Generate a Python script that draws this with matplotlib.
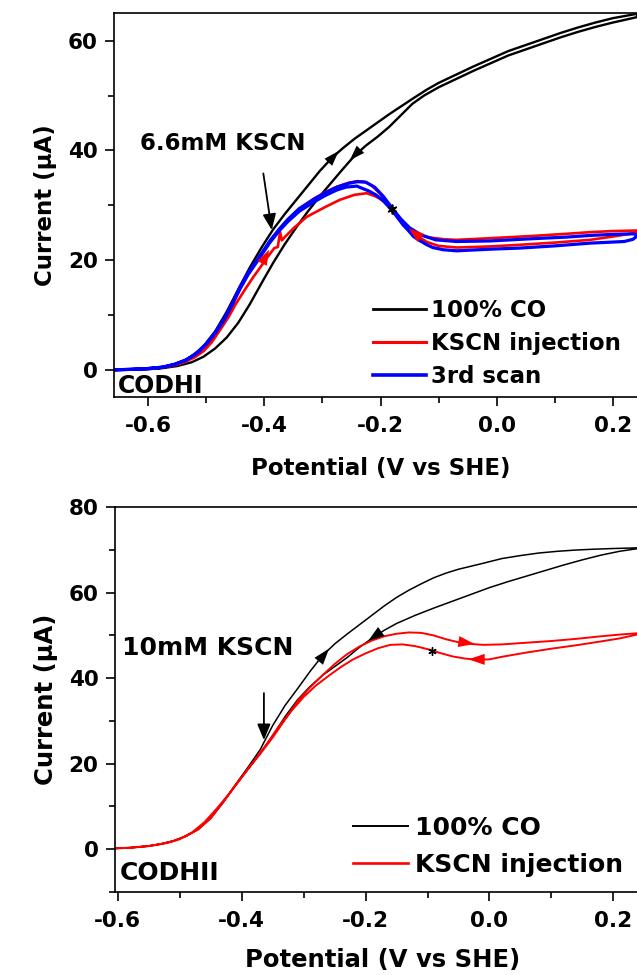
import matplotlib
matplotlib.use("Agg")
import matplotlib.pyplot as plt
from matplotlib.lines import Line2D
from matplotlib.ticker import MultipleLocator

# ---------------- CODH I panel (6.6 mM KSCN) ----------------
codh1_co_fwd_x = [-0.659, -0.62, -0.59, -0.565, -0.545, -0.525, -0.505, -0.485, -0.465, -0.445,
                  -0.425, -0.405, -0.385, -0.365, -0.345, -0.325, -0.305, -0.285, -0.265, -0.245,
                  -0.225, -0.205, -0.185, -0.165, -0.145, -0.12, -0.10, -0.07, -0.04, -0.01,
                  0.02, 0.05, 0.08, 0.11, 0.14, 0.17, 0.20, 0.242]
codh1_co_fwd_y = [0.0, 0.05, 0.2, 0.6, 1.3, 2.5, 4.3, 7.0, 10.6, 14.7,
                  18.7, 22.3, 25.6, 28.4, 31.0, 33.6, 36.2, 38.5, 40.4, 42.1,
                  43.6, 45.1, 46.6, 48.0, 49.4, 51.1, 52.3, 53.8, 55.3, 56.7,
                  58.1, 59.2, 60.3, 61.4, 62.4, 63.3, 64.1, 64.9]
codh1_co_rev_x = [0.242, 0.20, 0.17, 0.14, 0.11, 0.08, 0.05, 0.02, -0.01, -0.04,
                  -0.07, -0.10, -0.125, -0.145, -0.165, -0.185, -0.205, -0.225, -0.245, -0.265,
                  -0.285, -0.305, -0.325, -0.345, -0.365, -0.385, -0.405, -0.425, -0.445, -0.465,
                  -0.485, -0.505, -0.525, -0.55, -0.58, -0.62, -0.659]
codh1_co_rev_y = [64.3, 63.3, 62.5, 61.6, 60.6, 59.5, 58.4, 57.3, 55.9, 54.5,
                  53.0, 51.5, 50.0, 48.5, 46.4, 44.3, 42.5, 40.9, 39.0, 36.6,
                  34.1, 31.6, 28.9, 26.0, 22.9, 19.5, 15.8, 12.0, 8.6, 5.9,
                  3.9, 2.4, 1.4, 0.7, 0.25, 0.05, 0.0]

codh1_kscn_fwd_x = [-0.659, -0.63, -0.60, -0.575, -0.555, -0.535, -0.515, -0.50, -0.485, -0.47,
                    -0.455, -0.442, -0.428, -0.413, -0.39, -0.375, -0.36, -0.34, -0.315, -0.295,
                    -0.275, -0.255, -0.24, -0.228, -0.215, -0.20, -0.185, -0.17, -0.155, -0.14,
                    -0.12, -0.09, -0.069, -0.011, 0.06, 0.12, 0.161, 0.20, 0.242]
codh1_kscn_fwd_y = [0.0, 0.1, 0.25, 0.5, 1.0, 1.75, 3.1, 4.6, 6.6, 9.0,
                    11.9, 14.8, 17.4, 19.8, 23.5, 25.5, 27.3, 29.3, 31.2, 32.4,
                    33.4, 34.1, 34.4, 34.3, 33.6, 32.0, 29.8, 27.6, 25.9, 24.9,
                    24.2, 23.8, 23.7, 24.0, 24.4, 24.8, 25.1, 25.3, 25.4]
codh1_kscn_rev_x = [0.242, 0.20, 0.161, 0.10, 0.04, -0.011, -0.069, -0.10, -0.12, -0.135,
                    -0.15, -0.165, -0.18, -0.19, -0.201, -0.21, -0.224, -0.245, -0.27, -0.295,
                    -0.327, -0.35, -0.365, -0.370, -0.373, -0.377, -0.383, -0.395, -0.405, -0.42,
                    -0.435, -0.45, -0.462, -0.475, -0.491, -0.505, -0.52, -0.54, -0.56, -0.59,
                    -0.62, -0.659]
codh1_kscn_rev_y = [25.0, 24.3, 23.7, 23.2, 22.8, 22.5, 22.3, 22.6, 23.3, 24.3,
                    25.7, 27.4, 29.2, 30.3, 31.2, 31.7, 32.2, 31.9, 31.0, 29.7,
                    27.9, 25.8, 24.2, 23.6, 25.1, 22.4, 22.2, 20.5, 19.0, 16.8,
                    14.4, 11.9, 9.6, 7.5, 5.0, 3.4, 2.3, 1.3, 0.7, 0.25,
                    0.08, 0.0]

codh1_scan3_fwd_x = [-0.659, -0.63, -0.60, -0.575, -0.555, -0.535, -0.515, -0.50, -0.485, -0.47,
                     -0.455, -0.442, -0.428, -0.413, -0.39, -0.375, -0.36, -0.34, -0.315, -0.295,
                     -0.275, -0.255, -0.24, -0.225, -0.21, -0.195, -0.18, -0.165, -0.15, -0.13,
                     -0.105, -0.069, -0.011, 0.06, 0.12, 0.161, 0.20, 0.236, 0.242]
codh1_scan3_fwd_y = [0.0, 0.1, 0.25, 0.5, 1.0, 1.8, 3.2, 4.8, 6.8, 9.2,
                     12.2, 15.1, 17.7, 20.0, 23.6, 25.6, 27.4, 29.4, 31.1, 32.3,
                     33.3, 34.0, 34.3, 34.2, 33.3, 31.6, 29.5, 27.5, 25.9, 24.6,
                     23.7, 23.4, 23.5, 23.9, 24.2, 24.5, 24.7, 24.8, 24.6]
codh1_scan3_rev_x = [0.242, 0.235, 0.22, 0.161, 0.10, 0.04, -0.011, -0.069, -0.092, -0.11,
                     -0.12, -0.133, -0.143, -0.152, -0.161, -0.172, -0.184, -0.195, -0.208, -0.22,
                     -0.241, -0.26, -0.275, -0.295, -0.315, -0.34, -0.36, -0.375, -0.39, -0.413,
                     -0.428, -0.442, -0.455, -0.47, -0.485, -0.50, -0.515, -0.535, -0.555, -0.575,
                     -0.60, -0.63, -0.659]
codh1_scan3_rev_y = [24.4, 23.8, 23.4, 23.1, 22.6, 22.2, 22.0, 21.7, 21.9, 22.3,
                     22.8, 23.6, 24.3, 25.4, 26.4, 28.0, 29.5, 30.8, 31.9, 32.6,
                     33.5, 33.3, 32.8, 31.8, 30.6, 28.9, 27.0, 25.3, 23.3, 19.7,
                     17.4, 14.8, 12.0, 9.0, 6.7, 4.7, 3.1, 1.8, 1.0, 0.5,
                     0.25, 0.1, 0.0]

# scan-direction arrowheads: (x_tail, y_tail, x_head, y_head, colour)
codh1_dir_arrows = [(-0.292, 37.6, -0.272, 39.9, "black"),
                    (-0.232, 40.5, -0.253, 38.2, "black"),
                    (-0.406, 19.0, -0.392, 21.9, "red"),
                    (-0.124, 23.5, -0.151, 25.8, "red")]
codh1_marker = (-0.181, 29.4)

# ---------------- CODH II panel (10 mM KSCN) ----------------
codh2_co_fwd_x = [-0.6045, -0.58, -0.55, -0.53, -0.51, -0.49, -0.47, -0.45, -0.43, -0.41,
                  -0.39, -0.37, -0.35, -0.33, -0.31, -0.29, -0.27, -0.25, -0.23, -0.21,
                  -0.19, -0.17, -0.15, -0.13, -0.11, -0.09, -0.07, -0.05, -0.03, -0.01,
                  0.02, 0.05, 0.08, 0.11, 0.14, 0.17, 0.20, 0.238]
codh2_co_fwd_y = [0.15, 0.3, 0.7, 1.2, 1.9, 3.0, 4.7, 7.3, 11.0, 15.1,
                  19.1, 23.3, 28.9, 33.6, 37.5, 41.5, 45.2, 48.0, 50.3, 52.5,
                  54.7, 56.9, 58.9, 60.6, 62.1, 63.5, 64.6, 65.5, 66.2, 66.9,
                  68.0, 68.7, 69.3, 69.7, 70.0, 70.2, 70.35, 70.5]
codh2_co_rev_x = [0.238, 0.21, 0.18, 0.15, 0.12, 0.09, 0.06, 0.03, 0.0, -0.03,
                  -0.06, -0.09, -0.12, -0.15, -0.17, -0.19, -0.21, -0.23, -0.25, -0.27,
                  -0.29, -0.31, -0.33, -0.35, -0.37, -0.39, -0.41, -0.43, -0.45, -0.47,
                  -0.49, -0.51, -0.53, -0.55, -0.58, -0.6045]
codh2_co_rev_y = [70.3, 69.7, 68.8, 67.7, 66.5, 65.2, 63.9, 62.6, 61.2, 59.6,
                  58.0, 56.4, 54.7, 52.8, 51.2, 49.3, 47.2, 44.8, 42.7, 40.6,
                  38.0, 34.9, 31.0, 26.5, 22.4, 18.7, 14.9, 10.9, 7.2, 4.6,
                  3.0, 1.9, 1.2, 0.7, 0.3, 0.15]

codh2_kscn_fwd_x = [-0.6045, -0.58, -0.55, -0.53, -0.51, -0.49, -0.47, -0.45, -0.43, -0.41,
                    -0.39, -0.37, -0.35, -0.33, -0.31, -0.29, -0.27, -0.25, -0.23, -0.21,
                    -0.19, -0.17, -0.15, -0.13, -0.11, -0.09, -0.07, -0.05, -0.03, -0.01,
                    0.02, 0.06, 0.10, 0.14, 0.18, 0.21, 0.238]
codh2_kscn_fwd_y = [0.15, 0.3, 0.7, 1.2, 1.9, 3.0, 4.6, 7.2, 10.9, 14.9,
                    18.7, 22.3, 26.1, 30.3, 34.6, 37.8, 40.6, 43.3, 45.6, 47.4,
                    48.8, 49.8, 50.4, 50.7, 50.6, 50.0, 49.1, 48.4, 48.0, 47.8,
                    47.9, 48.3, 48.7, 49.2, 49.8, 50.2, 50.5]
codh2_kscn_rev_x = [0.238, 0.21, 0.18, 0.14, 0.10, 0.06, 0.02, 0.0, -0.02, -0.04,
                    -0.06, -0.08, -0.10, -0.12, -0.14, -0.16, -0.18, -0.20, -0.22, -0.24,
                    -0.26, -0.28, -0.30, -0.32, -0.34, -0.36, -0.38, -0.40, -0.42, -0.44,
                    -0.46, -0.48, -0.50, -0.52, -0.55, -0.58, -0.6045]
codh2_kscn_rev_y = [50.2, 49.3, 48.6, 47.7, 46.9, 46.0, 45.0, 44.4, 44.3, 44.6,
                    45.1, 45.9, 46.8, 47.5, 47.9, 47.8, 47.0, 45.8, 44.4, 42.6,
                    40.5, 38.3, 35.6, 32.3, 28.7, 24.5, 20.6, 16.8, 13.0, 9.5,
                    6.3, 3.9, 2.3, 1.4, 0.7, 0.3, 0.15]

codh2_dir_arrows = [(-0.281, 43.0, -0.259, 46.9, "black"),
                    (-0.172, 51.2, -0.196, 48.7, "black"),
                    (-0.065, 48.9, -0.024, 48.0, "red"),
                    (0.006, 44.4, -0.034, 44.4, "red")]
codh2_marker = (-0.093, 46.3)

FONT = "DejaVu Sans"
plt.rcParams["font.family"] = [FONT]
plt.rcParams["font.weight"] = "bold"

fig = plt.figure(figsize=(6.37, 9.75), dpi=100)
ax1 = fig.add_axes([0.1793, 0.5925, 0.8372, 0.3939])
ax2 = fig.add_axes([0.1805, 0.0854, 0.8408, 0.3943])


def style_axes(ax, xlim, ylim, ymajor, yticks, fs_tick, fs_label, xpad):
    ax.set_xlim(*xlim)
    ax.set_ylim(*ylim)
    ax.xaxis.set_major_locator(MultipleLocator(0.2))
    ax.xaxis.set_minor_locator(MultipleLocator(0.1))
    ax.set_yticks(yticks)
    ax.yaxis.set_minor_locator(MultipleLocator(ymajor / 2))
    ax.tick_params(which="major", direction="out", length=6.8, width=1.2,
                   labelsize=fs_tick, pad=5)
    ax.tick_params(which="minor", direction="out", length=4, width=1.2)
    ax.tick_params(top=False, right=False, which="both")
    ax.tick_params(axis="x", which="major", pad=7)
    for lab in ax.get_xticklabels() + ax.get_yticklabels():
        lab.set_fontweight("bold")
    ax.set_xticks(ax.get_xticks())
    ax.set_xticklabels([f"{t:.1f}" if abs(t) > 1e-9 else "0.0" for t in ax.get_xticks()],
                       fontweight="bold")
    ax.set_xlim(*xlim)
    for sp in ax.spines.values():
        sp.set_linewidth(1.2)
    ax.set_xlabel("Potential (V vs SHE)", fontsize=fs_label, fontweight="bold", labelpad=xpad)
    ax.set_ylabel("Current (μA)", fontsize=fs_label, fontweight="bold", labelpad=8)


def dir_arrows(ax, arrows, scale):
    for xt, yt, xh, yh, c in arrows:
        ax.annotate("", xy=(xh, yh), xytext=(xt, yt),
                    arrowprops=dict(arrowstyle="-|>,head_length=0.65,head_width=0.22",
                                    color=c, lw=0, shrinkA=0, shrinkB=0,
                                    mutation_scale=scale))


# ---- top panel ----
ax1.plot(codh1_co_fwd_x + codh1_co_rev_x, codh1_co_fwd_y + codh1_co_rev_y,
         color="black", lw=1.7, label="100% CO")
ax1.plot(codh1_kscn_fwd_x + codh1_kscn_rev_x, codh1_kscn_fwd_y + codh1_kscn_rev_y,
         color="#ff0000", lw=1.9, label="KSCN injection")
ax1.plot(codh1_scan3_fwd_x + codh1_scan3_rev_x, codh1_scan3_fwd_y + codh1_scan3_rev_y,
         color="#0000ff", lw=2.3, label="3rd scan")
ax1.plot(*codh1_marker, marker=(6, 2, 0), color="black", ms=7, mew=1.2)
dir_arrows(ax1, codh1_dir_arrows, 17)
style_axes(ax1, (-0.6588, 0.26), (-5, 65), 20, [0, 20, 40, 60], 15.5, 16.5, 15)

ax1.text(-0.614, 40.1, "6.6mM KSCN", fontsize=16.5, fontweight="bold", ha="left", va="baseline")
ax1.annotate("", xy=(-0.3874, 25.5), xytext=(-0.4019, 35.8),
             arrowprops=dict(arrowstyle="-|>,head_length=0.6,head_width=0.25",
                             color="black", lw=1.3, shrinkA=0, shrinkB=0, mutation_scale=16))
ax1.text(-0.6525, -4.2, "CODHI", fontsize=17, fontweight="bold", ha="left", va="baseline")

h1 = [Line2D([], [], color="black", lw=2.0), Line2D([], [], color="#ff0000", lw=2.2),
      Line2D([], [], color="#0000ff", lw=2.6)]
fig.legend(h1, ["100% CO", "KSCN injection", "3rd scan"], loc="upper left",
           bbox_to_anchor=(0.5856, 0.6935), bbox_transform=fig.transFigure,
           frameon=False, borderpad=0, borderaxespad=0, handlelength=2.3,
           handletextpad=0.25, labelspacing=0.45,
           prop=dict(family=FONT, weight="bold", size=16.5))

# ---- bottom panel ----
ax2.plot(codh2_co_fwd_x + codh2_co_rev_x, codh2_co_fwd_y + codh2_co_rev_y,
         color="black", lw=1.1, label="100% CO")
ax2.plot(codh2_kscn_fwd_x + codh2_kscn_rev_x, codh2_kscn_fwd_y + codh2_kscn_rev_y,
         color="#ff0000", lw=1.4, label="KSCN injection")
ax2.plot(*codh2_marker, marker=(6, 2, 0), color="black", ms=6, mew=1.0)
dir_arrows(ax2, codh2_dir_arrows, 18)
style_axes(ax2, (-0.6045, 0.26), (-10, 80), 20, [0, 20, 40, 60, 80], 15.5, 17.5, 12)

ax2.text(-0.5937, 45.4, "10mM KSCN", fontsize=18, fontweight="bold", ha="left", va="baseline")
ax2.annotate("", xy=(-0.3641, 25.5), xytext=(-0.3641, 36.5),
             arrowprops=dict(arrowstyle="-|>,head_length=0.6,head_width=0.25",
                             color="black", lw=1.3, shrinkA=0, shrinkB=0, mutation_scale=16))
ax2.text(-0.5968, -7.3, "CODHII", fontsize=18, fontweight="bold", ha="left", va="baseline")

h2 = [Line2D([], [], color="black", lw=1.4), Line2D([], [], color="#ff0000", lw=1.9)]
fig.legend(h2, ["100% CO", "KSCN injection"], loc="upper left",
           bbox_to_anchor=(0.5535, 0.1635), bbox_transform=fig.transFigure,
           frameon=False, borderpad=0, borderaxespad=0, handlelength=2.2,
           handletextpad=0.3, labelspacing=0.52,
           prop=dict(family=FONT, weight="bold", size=18))

fig.savefig("out.png", dpi=100)
